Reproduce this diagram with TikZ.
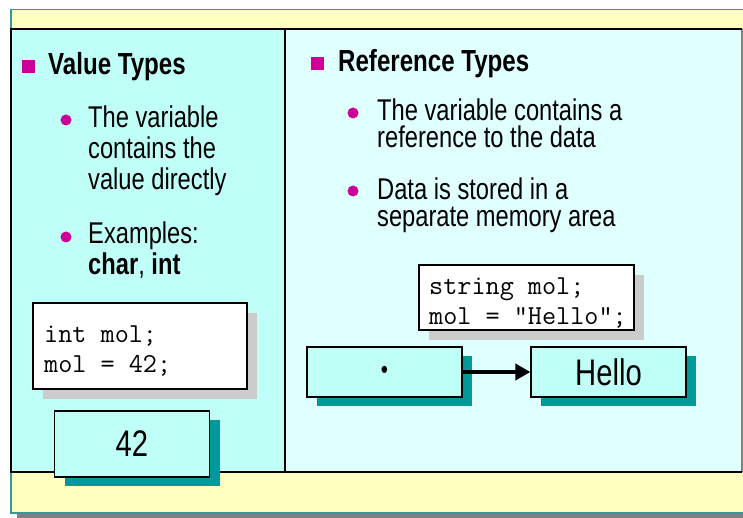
\documentclass[tikz,border=0pt]{standalone}
\usepackage{fontspec}
\setmainfont{Liberation Sans}
\newfontfamily\narrowsans[FakeStretch=0.79]{Liberation Sans}
\usetikzlibrary{arrows.meta,shadows}
\definecolor{frameyellow}{RGB}{255,255,192}
\definecolor{frameteal}{RGB}{51,153,153}
\definecolor{leftcyan}{RGB}{192,255,248}
\definecolor{rightcyan}{RGB}{224,255,255}
\definecolor{tealshadow}{RGB}{0,153,153}
\definecolor{greyshadow}{RGB}{204,204,204}
\definecolor{bulletpink}{RGB}{204,0,153}
\tikzset{
    sqbullet/.style={fill=bulletpink,minimum size=13pt,inner sep=0pt},
    dotbullet/.style={circle,fill=bulletpink,minimum size=11pt,inner sep=0pt},
    headtext/.style={anchor=base west,inner sep=0pt,font=\narrowsans\bfseries\fontsize{30.5}{31}\selectfont},
    % multi-line texts: base anchor sits on the last line
    bodytext/.style={anchor=base west,inner sep=0pt,align=left,font=\narrowsans\fontsize{30}{31}\selectfont},
    codetext/.style={anchor=base west,inner sep=0pt,align=left,font=\ttfamily\fontsize{27.4}{30}\selectfont},
    codebox/.style={draw=black,line width=1.2pt,fill=white,inner sep=0pt,
        drop shadow={shadow xshift=10pt,shadow yshift=-10pt,fill=greyshadow,opacity=1}},
    valbox/.style={draw=black,line width=1.2pt,fill=leftcyan,inner sep=0pt,
        minimum width=155pt,minimum height=50pt,
        font=\narrowsans\fontsize{37}{37}\selectfont,
        drop shadow={shadow xshift=10pt,shadow yshift=-9pt,fill=tealshadow,opacity=1}}
}
\begin{document}
\begin{tikzpicture}[x=1pt,y=-1pt]
    \useasboundingbox (0,0) rectangle (743,518);
    \clip (0,0) rectangle (743,518);
    % Frame and panels
    \fill[gray] (17,513) rectangle (760,519);
    \draw[frameteal,line width=1.5pt,fill=frameyellow] (11,9.5) rectangle (760,513);
    \fill[leftcyan] (11,29) rectangle (285,472);
    \fill[rightcyan] (285,29) rectangle (742,472);
    \draw[gray,line width=1.2pt] (742,29) -- (742,472);
    \draw[line width=1.2pt] (742,472) -- (11,472) -- (11,29) -- (742,29);
    \draw[line width=1.2pt] (285,29) -- (285,472);

    % Value types
    \node[sqbullet] (vsq) at (28.5,66.5) {};
    \node[headtext] (vhead) at (48,75) {Value Types};
    \node[dotbullet] (vdot1) at (66,120) {};
    \node[bodytext] (vpara1) at (88,190) {The variable\\contains the\\value directly};
    \node[dotbullet] (vdot2) at (66,237) {};
    \node[bodytext,font=\narrowsans\fontsize{30}{30}\selectfont] (vpara2) at (88,274) {Examples:\\\textbf{char}, \textbf{int}};

    \node[codebox,minimum width=214pt,minimum height=86pt] (vcode) at (140,346) {};
    \node[codetext] (vcodetxt) at (44,372) {int mol;\\mol = 42;};
    \node[valbox,minimum height=66pt] (val) at (132,444) {42};

    % Reference types
    \node[sqbullet] (rsq) at (317,63.5) {};
    \node[headtext] (rhead) at (338,72) {Reference Types};
    \node[dotbullet] (rdot1) at (353,113) {};
    \node[bodytext,font=\narrowsans\fontsize{30}{27.5}\selectfont] (rpara1) at (377,148) {The variable contains a\\reference to the data};
    \node[dotbullet] (rdot2) at (353,191) {};
    \node[bodytext,font=\narrowsans\fontsize{30}{27.5}\selectfont] (rpara2) at (377,227) {Data is stored in a\\separate memory area};

    \node[codebox,minimum width=215pt,minimum height=65pt] (rcode) at (526.5,297.5) {};
    \node[codetext] (rcodetxt) at (429,324) {string mol;\\mol = "Hello";};
    \node[valbox] (ptr) at (384.5,372) {\raisebox{-3pt}{\fontsize{26}{26}\selectfont\textbullet}};
    \node[valbox] (hello) at (608.5,372) {Hello};
    \draw[line width=4.5pt,-{Triangle[length=15pt,width=16pt]}] (ptr) -- (hello);
\end{tikzpicture}
\end{document}
